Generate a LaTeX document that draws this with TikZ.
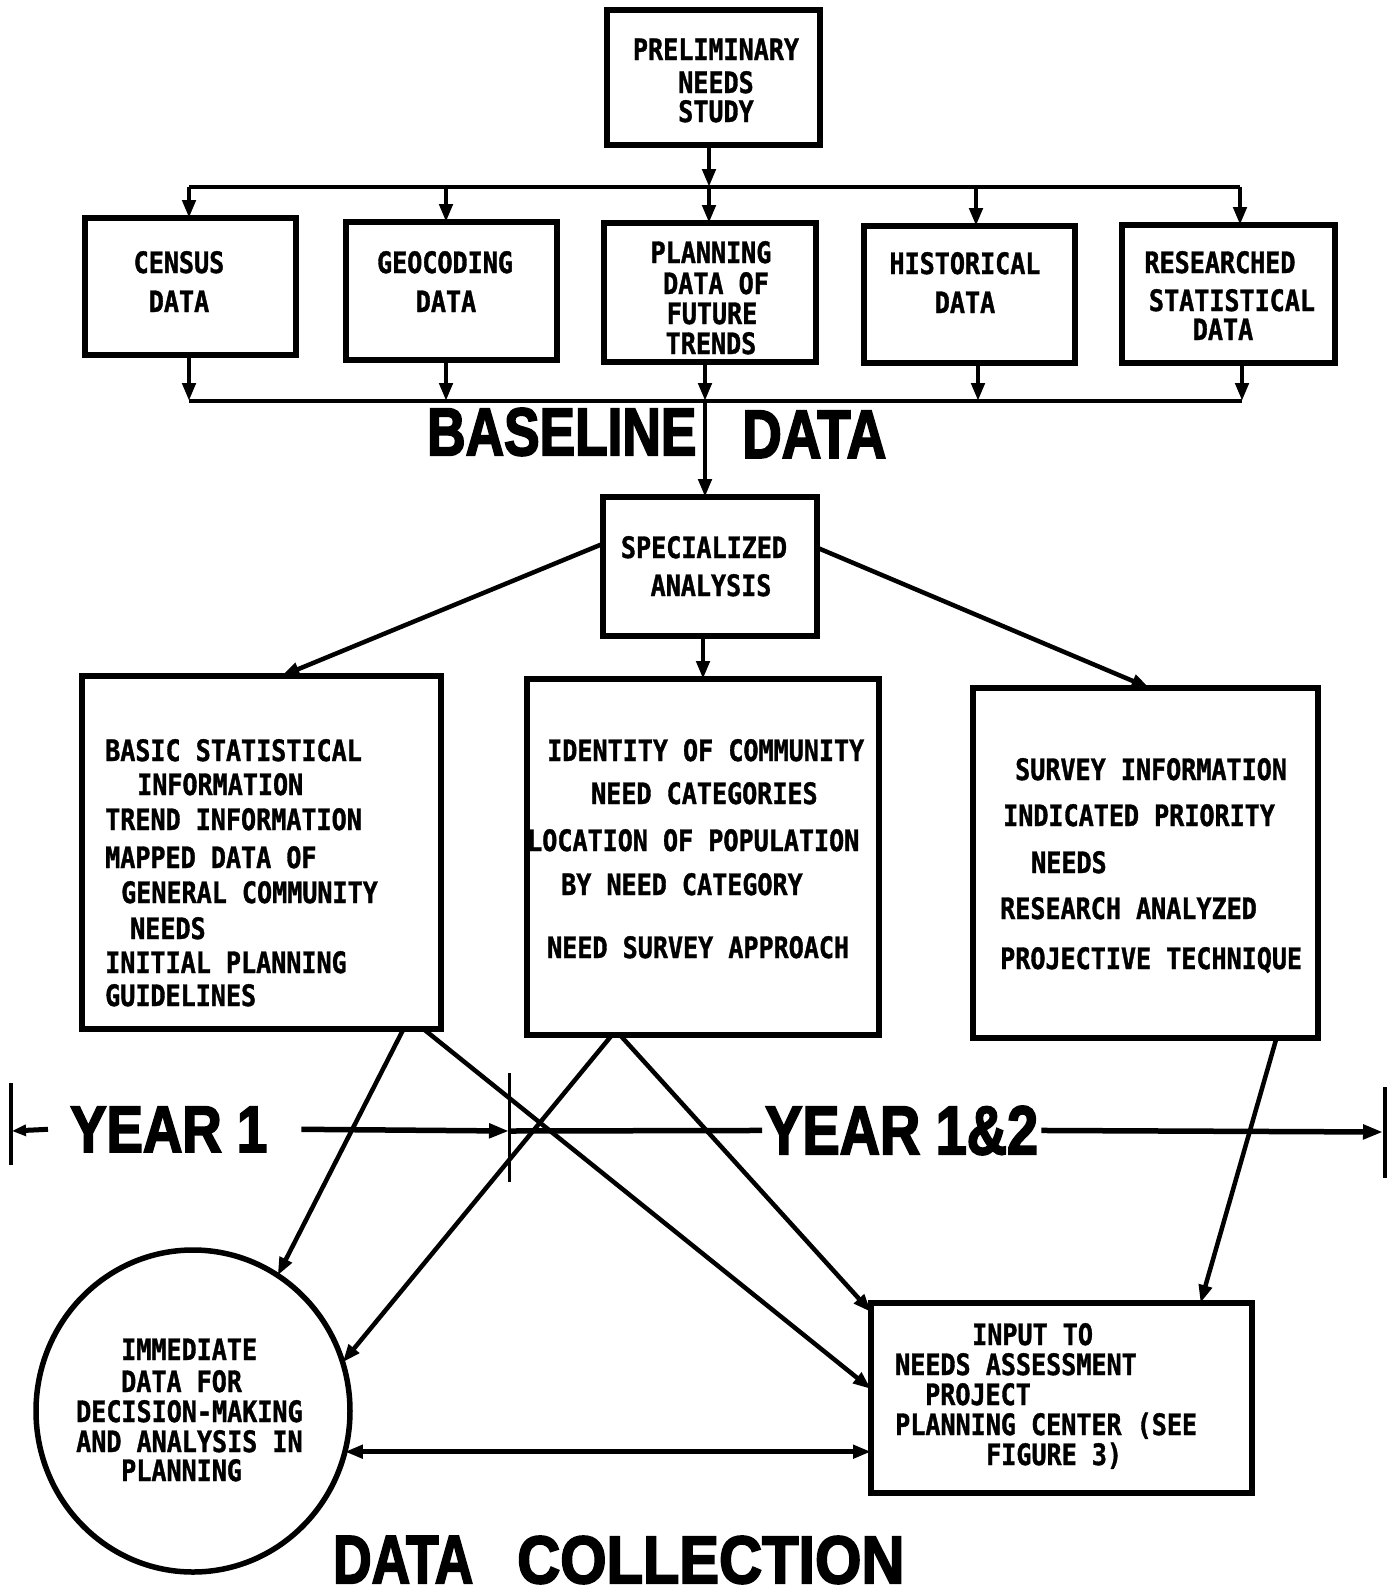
\documentclass[tikz,border=0pt]{standalone}
\usepackage{fontspec}
\usepackage{graphicx}
\usetikzlibrary{arrows.meta,shapes.geometric,calc}
\newfontfamily\tw[FakeStretch=0.85,FakeBold=1.2]{DejaVu Sans Mono}
\newfontfamily\heavy[FakeBold=3]{Liberation Sans}
\newcommand\bigtxt[3]{\resizebox{#1pt}{#2pt}{\heavy\bfseries #3}}
\begin{document}
\begin{tikzpicture}[x=1pt,y=-1pt,
  box/.style={draw, line width=5.5pt, inner sep=0pt, outer sep=0pt},
  ln/.style={line width=4.5pt},
  arr/.style={line width=4.5pt, -{Triangle[length=18pt,width=13pt]}},
  dblarr/.style={line width=4.5pt, {Triangle[length=18pt,width=13pt]}-{Triangle[length=18pt,width=13pt]}},
  tx/.style={font=\fontsize{29.5}{33}\tw\bfseries, inner sep=0pt, anchor=base west},
  txc/.style={font=\fontsize{29.5}{33}\tw\bfseries, inner sep=0pt, anchor=base},
  big/.style={inner sep=0pt, anchor=south west}]
\useasboundingbox[fill=white] (0,0) rectangle (1388,1596);

% ---- boxes
\node[box, minimum width=213pt, minimum height=135pt] (prelim) at (713.5,77.5) {};
\node[box, minimum width=211pt, minimum height=137pt] (census) at (190.5,286.5) {};
\node[box, minimum width=211pt, minimum height=138pt] (geo) at (451.5,291) {};
\node[box, minimum width=212pt, minimum height=139pt] (plan) at (710,292.5) {};
\node[box, minimum width=211pt, minimum height=137pt] (hist) at (969.5,294.5) {};
\node[box, minimum width=213pt, minimum height=138pt] (res) at (1228.5,294) {};
\node[box, minimum width=214pt, minimum height=139pt] (spec) at (710,566.5) {};
\node[box, minimum width=359pt, minimum height=353pt] (lbox) at (261.5,852.5) {};
\node[box, minimum width=352pt, minimum height=356pt] (mbox) at (703,857) {};
\node[box, minimum width=345pt, minimum height=350pt] (rbox) at (1145.5,863) {};
\node[box, minimum width=381pt, minimum height=190pt] (ibox) at (1061.5,1398) {};
\node[box, ellipse, minimum width=314pt, minimum height=322pt] (circ) at (193,1411) {};

% ---- texts in boxes
\node[txc] (p1) at (716,60) {PRELIMINARY};
\node[txc] (p2) at (716,93) {NEEDS};
\node[txc] (p3) at (716,122) {STUDY};

\node[txc] (c1) at (179,273) {CENSUS};
\node[txc] (c2) at (179,312) {DATA};
\node[txc] (g1) at (445,273) {GEOCODING};
\node[txc] (g2) at (446,312) {DATA};
\node[txc] (pl1) at (711,263) {PLANNING};
\node[txc] (pl2) at (716,294) {DATA OF};
\node[txc] (pl3) at (712,324) {FUTURE};
\node[txc] (pl4) at (711,354) {TRENDS};
\node[txc] (h1) at (965,274) {HISTORICAL};
\node[txc] (h2) at (965,313) {DATA};
\node[txc] (r1) at (1220,273) {RESEARCHED};
\node[txc] (r2) at (1232,311) {STATISTICAL};
\node[txc] (r3) at (1223,340) {DATA};

\node[txc] (s1) at (704,558) {SPECIALIZED};
\node[txc] (s2) at (711,596) {ANALYSIS};

\node[tx] (l1) at (105,761) {BASIC STATISTICAL};
\node[tx] (l2) at (137,795) {INFORMATION};
\node[tx] (l3) at (105,830) {TREND INFORMATION};
\node[tx] (l4) at (105,868) {MAPPED DATA OF};
\node[tx] (l5) at (121,903) {GENERAL COMMUNITY};
\node[tx] (l6) at (130,939) {NEEDS};
\node[tx] (l7) at (105,973) {INITIAL PLANNING};
\node[tx] (l8) at (105,1006) {GUIDELINES};

\node[tx] (m1) at (547,761) {IDENTITY OF COMMUNITY};
\node[tx] (m2) at (591,804) {NEED CATEGORIES};
\node[tx] (m3) at (527,851) {LOCATION OF POPULATION};
\node[tx] (m4) at (561,895) {BY NEED CATEGORY};
\node[tx] (m5) at (547,958) {NEED SURVEY APPROACH};

\node[tx] (q1) at (1015,780) {SURVEY INFORMATION};
\node[tx] (q2) at (1003,826) {INDICATED PRIORITY};
\node[tx] (q3) at (1031,873) {NEEDS};
\node[tx] (q4) at (1000,919) {RESEARCH ANALYZED};
\node[tx] (q5) at (1000,969) {PROJECTIVE TECHNIQUE};

\node[tx] (i1) at (972,1345) {INPUT TO};
\node[tx] (i2) at (895,1375) {NEEDS ASSESSMENT};
\node[tx] (i3) at (925,1405) {PROJECT};
\node[tx] (i4) at (895,1435) {PLANNING CENTER (SEE};
\node[tx] (i5) at (986,1465) {FIGURE 3)};

\node[tx] (k1) at (121,1360) {IMMEDIATE};
\node[tx] (k2) at (121,1392) {DATA FOR};
\node[tx] (k3) at (76,1422) {DECISION-MAKING};
\node[tx] (k4) at (76,1452) {AND ANALYSIS IN};
\node[tx] (k5) at (121,1481) {PLANNING};

% ---- big labels
\node[big] (base1) at (427,456) {\bigtxt{269}{47}{BASELINE}};
\node[big] (base2) at (742,458) {\bigtxt{144}{47}{DATA}};
\node[big] (year1) at (70,1152) {\bigtxt{197}{45}{YEAR 1}};
\node[big] (year12) at (765,1155) {\bigtxt{273}{48}{YEAR 1\&2}};
\node[big] (dc) at (333,1584) {\bigtxt{140}{47}{DATA}\hspace{44pt}\bigtxt{387}{47}{COLLECTION}};

% ---- buses
\coordinate (tb1) at (189,187);
\coordinate (tb2) at (446,187);
\coordinate (tb3) at (709,187);
\coordinate (tb4) at (976,187);
\coordinate (tb5) at (1240,187);
\coordinate (bb1) at (189,401);
\coordinate (bb2) at (446,401);
\coordinate (bb3) at (705,401);
\coordinate (bb4) at (978,401);
\coordinate (bb5) at (1242,401);
\draw[ln] (tb1) -- (tb5);
\draw[ln] (bb1) -- (bb5);
\draw[arr] (prelim.south -| tb3) -- (tb3);
\foreach \i/\n in {1/census,2/geo,3/plan,4/hist,5/res}{
  \draw[arr] (tb\i) -- (tb\i |- \n.north);
  \draw[arr] (\n.south -| bb\i) -- (bb\i);
}
\draw[arr] (bb3) -- (bb3 |- spec.north);

% ---- specialized analysis outputs
\draw[arr] (spec.168) -- ([xshift=20pt]lbox.north);
\draw[arr] (spec.10) -- ([xshift=4pt]rbox.north);
\draw[arr] (spec.south -| mbox.north) -- (mbox.north);

% ---- crossing connectors
\draw[arr] ([xshift=142pt]lbox.south) -- (circ.58);
\draw[arr] ([xshift=162pt]lbox.south) -- ([yshift=9pt]ibox.west);
\draw[arr] ([xshift=-91pt]mbox.south) -- (circ.18);
\draw[arr] ([xshift=-83pt]mbox.south) -- ([yshift=-9pt]ibox.north west);
\draw[arr] ([xshift=131pt]rbox.south) -- ([xshift=139pt]ibox.north);
\draw[dblarr] (circ.-15) -- (circ.-15 -| ibox.west);

% ---- year time line
\coordinate (yl) at (12,1131);
\coordinate (ytick) at (509,1131);
\coordinate (yr) at (1383,1132);
\draw[line width=4.5pt] (11,1083) -- (11,1165);
\draw[line width=3pt] (509,1073) -- (509,1182);
\draw[line width=4.5pt] (1385,1087) -- (1385,1178);
\draw[line width=5pt, -{Triangle[length=14pt,width=11pt]}] ([xshift=-22pt]year1.west) -- (yl);
\draw[line width=5.5pt, -{Triangle[length=20pt,width=14pt]}] ([xshift=34pt]year1.east) -- (ytick);
\draw[line width=5.5pt] (ytick) -- ([xshift=-3pt]year12.west);
\draw[line width=5.5pt, -{Triangle[length=20pt,width=14pt]}] ([xshift=3pt]year12.east) -- (yr);
\end{tikzpicture}
\end{document}
